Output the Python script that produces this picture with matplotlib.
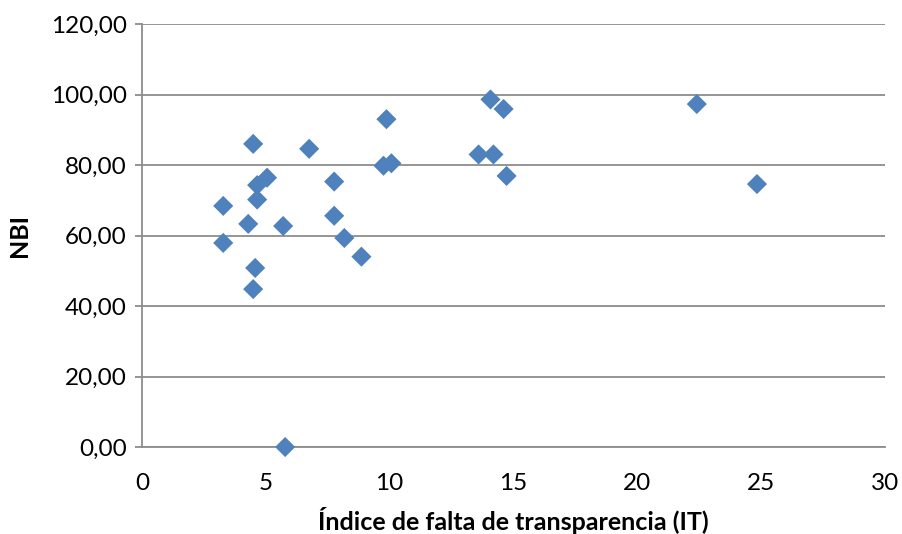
import matplotlib
matplotlib.use("Agg")
import matplotlib.pyplot as plt
from matplotlib.ticker import FuncFormatter

# Data
it_values = [3.28, 3.28, 4.49, 4.29, 4.57, 4.49, 4.65, 4.65, 5.05, 5.70,
             5.78, 6.75, 7.76, 7.76, 8.17, 8.86, 9.75, 9.87, 10.07, 13.59,
             14.07, 14.19, 14.60, 14.72, 22.40, 24.83]
nbi_values = [68.4, 57.9, 86.0, 63.3, 50.8, 44.8, 74.3, 70.2, 76.4, 62.7,
              0.0, 84.6, 75.3, 65.6, 59.3, 54.0, 79.8, 93.0, 80.5, 83.0,
              98.6, 83.0, 95.9, 76.9, 97.3, 74.6]
x_ticks = [0, 5, 10, 15, 20, 25, 30]
y_ticks = [0, 20, 40, 60, 80, 100, 120]

plt.rcParams['font.family'] = ['Lato', 'DejaVu Sans']

fig = plt.figure(figsize=(9.02, 5.34), dpi=100)
ax = fig.add_axes([0.1574, 0.1629, 0.9812 - 0.1574, 0.955 - 0.1629])

grid_color = '#8c8c8c'
ax.scatter(it_values, nbi_values, marker='D', s=105, color='#4F81BD',
           edgecolors='none', zorder=3, clip_on=False)

ax.set_xlim(0, 30)
ax.set_ylim(0, 120)
ax.set_xticks(x_ticks)
ax.set_yticks(y_ticks)
ax.yaxis.set_major_formatter(FuncFormatter(lambda v, p: f"{v:.2f}".replace('.', ',')))
ax.grid(axis='y', color=grid_color, linewidth=1.3)
ax.set_axisbelow(True)

for s in ['top', 'right']:
    ax.spines[s].set_visible(False)
for s in ['left', 'bottom']:
    ax.spines[s].set_color(grid_color)
    ax.spines[s].set_linewidth(1.3)

ax.tick_params(axis='y', length=5, color=grid_color, width=1.3, labelsize=17.5, pad=6)
ax.tick_params(axis='x', length=0, labelsize=17.5, pad=19)

ax.set_xlabel('Índice de falta de transparencia (IT)', fontsize=18, fontweight='bold', labelpad=9)
ax.set_ylabel('NBI', fontsize=18, fontweight='bold', labelpad=14)

fig.savefig('out.png', dpi=100)
